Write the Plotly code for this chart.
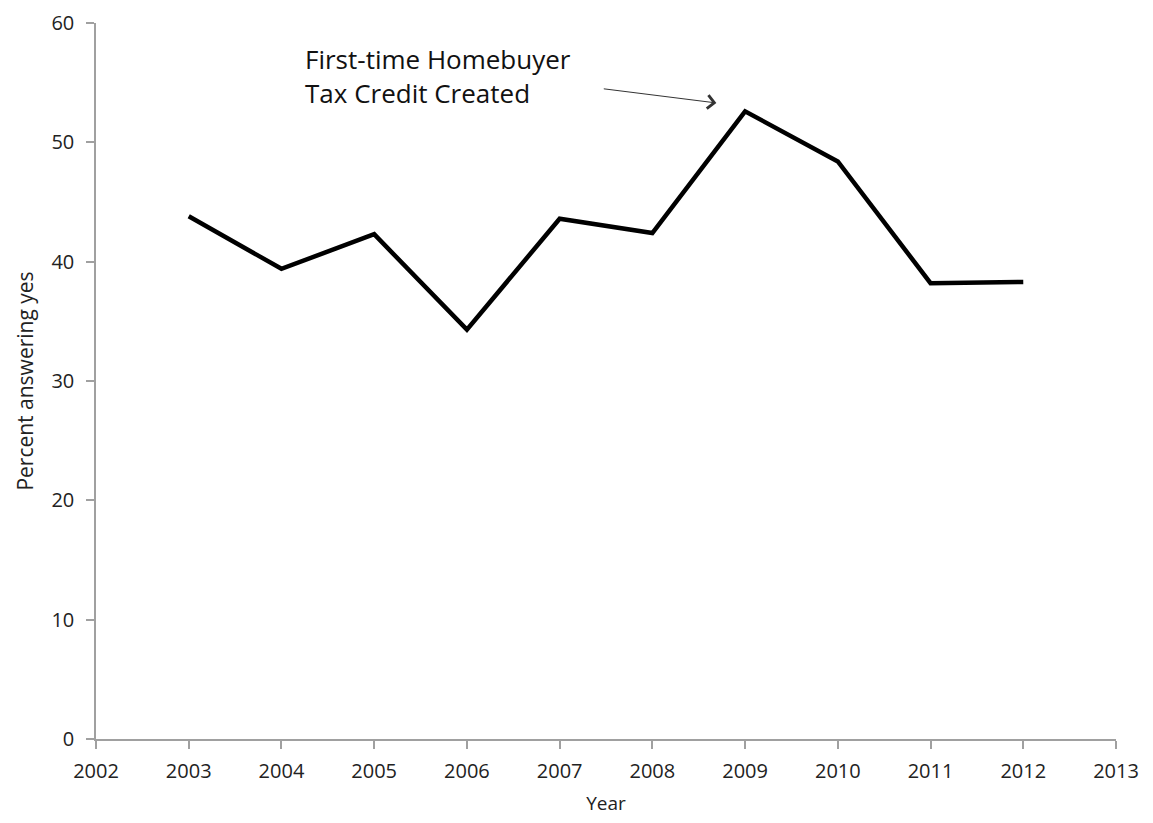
import plotly.graph_objects as go

years = [2003, 2004, 2005, 2006, 2007, 2008, 2009, 2010, 2011, 2012]
percent_yes = [43.8, 39.4, 42.3, 34.3, 43.6, 42.4, 52.6, 48.4, 38.2, 38.3]
x_ticks = list(range(2002, 2014))
y_ticks = [0, 10, 20, 30, 40, 50, 60]

annot_text = "First-time Homebuyer<br>Tax Credit Created"
arrow_tail = (2007.46, 54.5)
arrow_head = (2008.69, 53.3)
text_pos = (2004.23, 55.6)

FONT = "'Open Sans', sans-serif"

fig = go.Figure()
fig.add_trace(go.Scatter(
    x=years, y=percent_yes, mode="lines",
    line=dict(color="black", width=4.5),
    hoverinfo="x+y", showlegend=False,
))

axis_common = dict(
    showgrid=False, zeroline=False, showline=True,
    linecolor="#a0a0a0", linewidth=1.5,
    ticks="outside", ticklen=8, tickwidth=1.5, tickcolor="#a0a0a0",
    tickfont=dict(family=FONT, size=20, color="#222"),
    ticklabeloverflow="allow", automargin=False,
)

fig.update_xaxes(
    range=[2002, 2013], tickmode="array", tickvals=x_ticks,
    ticktext=[str(v) for v in x_ticks],
    title=dict(text="Year", font=dict(family=FONT, size=19, color="#222"), standoff=14),
    ticklabelstandoff=5,
    **axis_common,
)
fig.update_yaxes(
    range=[0, 60], tickmode="array", tickvals=y_ticks,
    ticktext=[str(v) for v in y_ticks],
    title=dict(text="Percent answering yes", font=dict(family=FONT, size=21, color="#222"), standoff=12),
    ticklabelstandoff=8,
    **axis_common,
)

fig.add_annotation(
    x=arrow_head[0], y=arrow_head[1], ax=arrow_tail[0], ay=arrow_tail[1],
    xref="x", yref="y", axref="x", ayref="y",
    text="", showarrow=True, arrowhead=4, arrowsize=2.6, arrowwidth=1,
    arrowcolor="#333", standoff=0, startstandoff=0,
)
fig.add_annotation(
    x=text_pos[0], y=text_pos[1], xref="x", yref="y",
    text=annot_text, showarrow=False, xanchor="left", yanchor="middle",
    align="left", font=dict(family=FONT, size=26, color="#111"),
)

fig.update_layout(
    width=1145, height=815,
    margin=dict(l=88, r=37, t=15, b=84),
    plot_bgcolor="white", paper_bgcolor="white",
)

fig.write_html("out.html")
